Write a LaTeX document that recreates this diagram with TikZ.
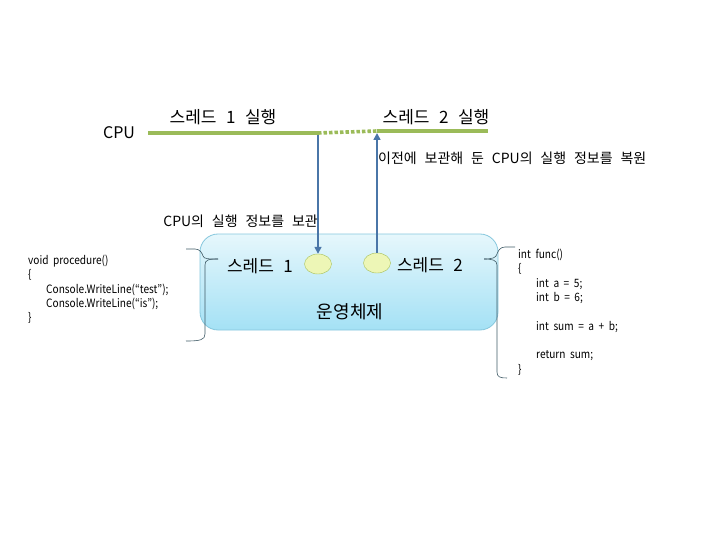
\documentclass[tikz,border=0pt]{standalone}
\usepackage{fontspec}
\setmainfont[WordSpace=2.5]{Noto Sans CJK KR}
\newfontfamily\codefont[FakeStretch=0.88,WordSpace=2]{Noto Sans CJK KR}
\usetikzlibrary{arrows.meta,shapes.geometric}
\definecolor{cpugreen}{HTML}{9BBB59}
\definecolor{arrowblue}{HTML}{4A76A8}
\definecolor{boxtop}{HTML}{E6F7FC}
\definecolor{boxbot}{HTML}{A4E1F5}
\definecolor{boxedge}{HTML}{86C7DD}
\definecolor{ellfill}{HTML}{EDF6B6}
\definecolor{elledge}{HTML}{A9C25E}
\definecolor{brk}{HTML}{3F5A66}
\tikzset{
  cpuline/.style={cpugreen, line width=3.6pt},
  cpudots/.style={cpugreen, line width=3.6pt, dash pattern=on 3.5pt off 2pt},
  flow/.style={arrowblue, line width=1.6pt, -{Triangle[length=7pt,width=7pt]}},
  thread/.style={ellipse, draw=elledge, fill=ellfill, minimum width=27pt, minimum height=20pt, inner sep=0pt},
  bigtxt/.style={font=\fontsize{17}{20}\selectfont, inner sep=0pt},
  midtxt/.style={font=\fontsize{14}{16}\selectfont, inner sep=0pt},
  code/.style={font=\codefont\fontsize{11.5}{14.3}\selectfont, inner sep=0pt, align=left},
  brace/.style={brk, line width=0.6pt}
}
\begin{document}
\begin{tikzpicture}[x=1pt,y=-1pt]
\useasboundingbox (0,0) rectangle (720,540);
% CPU timeline
\node[font=\fontsize{16}{19}\selectfont, inner sep=0pt] (cpu) at (119,133) {CPU};
\coordinate (l0) at (148,133);
\coordinate (l1) at (318,133);
\coordinate (l2) at (377,131);
\coordinate (l3) at (488,131);
\draw[cpuline] (l0) -- (l1);
\draw[cpudots] (l1) -- (l2);
\draw[cpuline] (l2) -- (l3);
\node[bigtxt] (r1) at (223,117) {스레드 1 실행};
\node[bigtxt] (r2) at (436,117) {스레드 2 실행};
% OS box
\node[draw=boxedge, line width=0.8pt, rounded corners=18pt, top color=boxtop, bottom color=boxbot,
      minimum width=298pt, minimum height=96pt] (os) at (349,282) {};
\node[thread] (t1) at (318,264) {};
\node[thread] (t2) at (377,263) {};
\node[bigtxt] (n1) at (260,266) {스레드 1};
\node[bigtxt] (n2) at (430,265) {스레드 2};
\node[font=\fontsize{18}{21}\selectfont, inner sep=0pt] (osl) at (350,312) {운영체제};
% arrows
\draw[flow] (l1 |- 0,135) -- (t1.north);
\draw[flow] (t2.north) -- (t2.north |- 0,133);
\node[midtxt, anchor=west] (restore) at (378,158) {이전에 보관해 둔 CPU의 실행 정보를 복원};
\node[midtxt, anchor=east] (save) at (318,221) {CPU의 실행 정보를 보관};
% code blocks
\node[code, anchor=north west] (proc) at (28,255) {void procedure()\\
\{\\
\hspace*{18pt}Console.WriteLine(“test”);\\
\hspace*{18pt}Console.WriteLine(“is”);\\
\}};
\node[code, anchor=north west] (func) at (518,249) {int func()\\
\{\\
\hspace*{18pt}int a = 5;\\
\hspace*{18pt}int b = 6;\\
\\
\hspace*{18pt}int sum = a + b;\\
\\
\hspace*{18pt}return sum;\\
\}};
% braces
\draw[brace] (186,249) -- (195,249) .. controls (200,249) and (202,253) .. (203,256) .. controls (204,259) and (208,259) .. (218,259);
\draw[brace] (218,259) .. controls (208,259) and (205,260) .. (205,265) -- (205,334) .. controls (205,340) and (200,341) .. (186,341);
\draw[brace] (515,247) -- (505,247) .. controls (500,247) and (498,251) .. (497,254) .. controls (496,258) and (492,259) .. (484,259);
\draw[brace] (484,259) .. controls (492,259) and (497,260) .. (497,265) -- (497,372) .. controls (497,377) and (500,378) .. (507,378);
\end{tikzpicture}
\end{document}
